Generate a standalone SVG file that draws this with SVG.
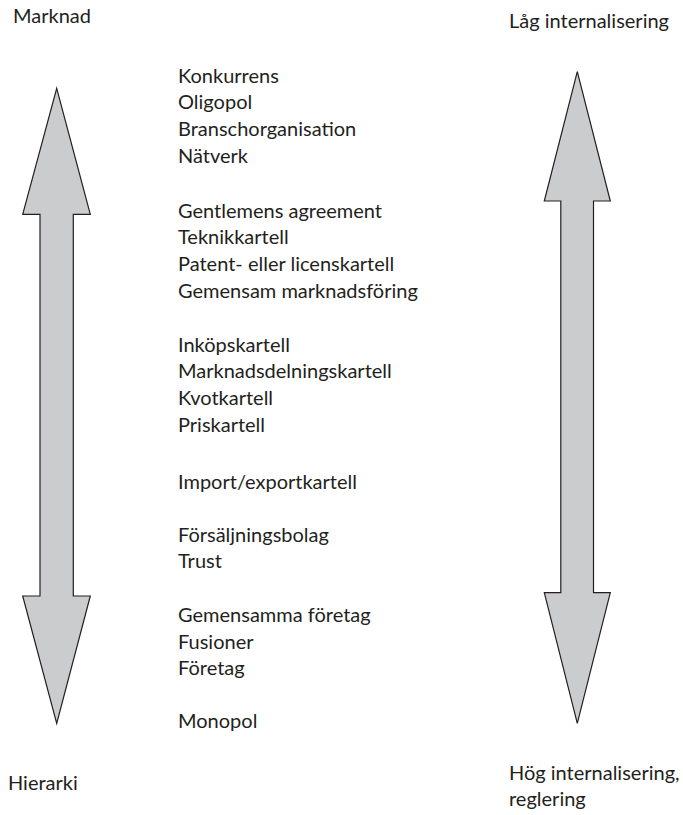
<svg xmlns="http://www.w3.org/2000/svg" width="683" height="815" viewBox="0 0 683 815">
  <style>
    text { font-family: Lato, "Open Sans", "Liberation Sans", sans-serif; font-size: 20px; fill: #231f20; }
    .arrow { fill: #cbccce; stroke: #231f20; stroke-width: 1.2; stroke-linejoin: miter; }
  </style>

  <!-- Axis labels -->
  <g id="label-marknad"><text x="13" y="23">Marknad</text></g>
  <g id="label-hierarki"><text x="8" y="790">Hierarki</text></g>
  <g id="label-lag"><text x="509" y="28">Låg internalisering</text></g>
  <g id="label-hog">
    <text x="509" y="780">Hög internalisering,</text>
    <text x="509" y="806">reglering</text>
  </g>

  <!-- Double-headed arrows -->
  <g id="connectors">
    <polygon id="arrow-left" class="arrow"
      points="56.7,88.3 90.3,214.3 73.3,214.3 73.3,596 90.3,596 56.7,723.3 22.7,596 40,596 40,214.3 22.7,214.3"/>
    <polygon id="arrow-right" class="arrow"
      points="577.3,71.7 610.3,201 593.5,201 593.5,592.7 610.3,592.7 577.3,723.3 544.3,592.7 560.8,592.7 560.8,201 544.3,201"/>
  </g>

  <!-- Forms of cooperation, from market to hierarchy -->
  <g id="list">
    <text x="178" y="82.7">Konkurrens</text>
    <text x="178" y="109.4">Oligopol</text>
    <text x="178" y="136.1">Branschorganisation</text>
    <text x="178" y="162.8">Nätverk</text>

    <text x="178" y="217.8">Gentlemens agreement</text>
    <text x="178" y="244.4">Teknikkartell</text>
    <text x="178" y="271">Patent- eller licenskartell</text>
    <text x="178" y="297.6">Gemensam marknadsföring</text>

    <text x="178" y="351.7">Inköpskartell</text>
    <text x="178" y="378.4">Marknadsdelningskartell</text>
    <text x="178" y="405">Kvotkartell</text>
    <text x="178" y="431.6">Priskartell</text>

    <text x="178" y="488.5">Import/exportkartell</text>

    <text x="178" y="541.5">Försäljningsbolag</text>
    <text x="178" y="568">Trust</text>

    <text x="178" y="622">Gemensamma företag</text>
    <text x="178" y="648.7">Fusioner</text>
    <text x="178" y="675.3">Företag</text>

    <text x="178" y="728.3">Monopol</text>
  </g>
</svg>
